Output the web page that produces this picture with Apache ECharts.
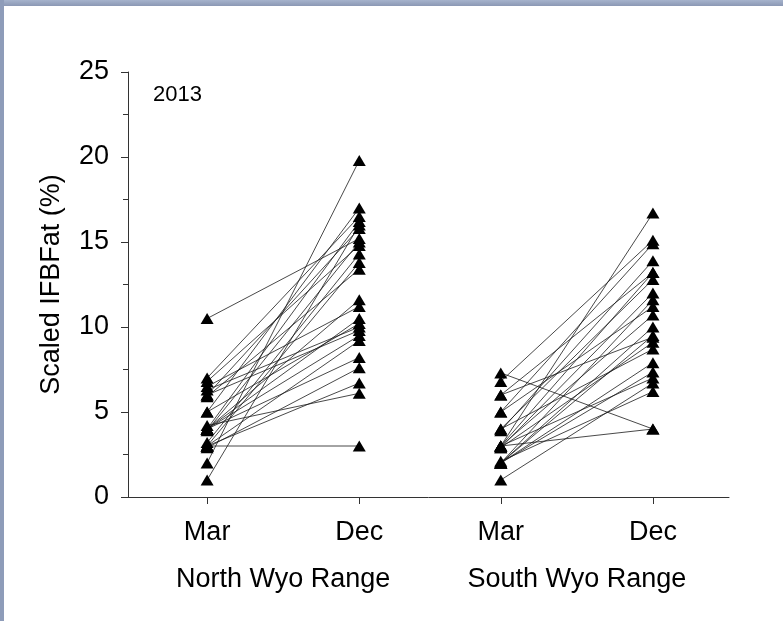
<!DOCTYPE html>
<html>
<head>
<meta charset="utf-8">
<script src="https://cdn.jsdelivr.net/npm/echarts@6/dist/echarts.min.js"></script>
<style>
html,body{margin:0;padding:0;background:#fff;}
#chart{width:783px;height:621px;}
</style>
</head>
<body>
<div id="chart"></div>
<script>
// Tick / group labels
const periodLabels = ['Mar', 'Dec', 'Mar', 'Dec'];
const periodPositions = [1, 2, 2.93, 3.93];
const groupLabels = ['North Wyo Range', 'South Wyo Range'];
const groupPositions = [1.5, 3.43];
const yTicks = [0, 5, 10, 15, 20, 25];
const panelLabel = '2013';

// North Wyo Range: paired values (March -> December)
const northMar = [10.5, 7.0, 6.8, 6.5, 6.3, 6.0, 6.0, 5.9, 5.0, 4.0, 4.0, 4.0, 4.0, 4.0, 3.9, 3.0, 3.0, 3.0, 3.0, 2.9, 2.0, 1.0, 4.2, 3.2, 5.0];
const northDec = [15.2, 16.5, 14.8, 11.2, 10.0, 15.8, 9.8, 13.4, 17.0, 16.2, 11.6, 10.5, 9.5, 8.2, 15.0, 3.0, 6.7, 13.8, 9.2, 7.6, 19.8, 16.0, 6.1, 14.3, 10.2];

// South Wyo Range: paired values (March -> December)
const southMar = [7.3, 6.8, 6.0, 6.0, 5.0, 5.0, 4.0, 4.0, 3.9, 3.0, 3.0, 3.0, 3.0, 2.9, 2.9, 2.0, 2.0, 2.0, 2.1, 1.0, 2.0, 3.0, 2.0];
const southDec = [4.0, 15.1, 13.2, 9.4, 14.9, 11.2, 12.8, 8.7, 13.9, 16.7, 4.0, 10.7, 7.0, 12.0, 9.1, 11.6, 7.35, 10.0, 6.2, 6.7, 7.9, 13.2, 9.5];

const FONT = "'Liberation Sans', Arial, sans-serif";
const series = [];
function addPairs(mar, dec, xa, xb) {
  for (let i = 0; i < mar.length; i++) {
    series.push({
      type: 'line',
      xAxisIndex: 0,
      data: [[xa, mar[i]], [xb, dec[i]]],
      symbol: 'triangle',
      symbolSize: [13, 11],
      showSymbol: true,
      itemStyle: { color: '#000' },
      lineStyle: { color: '#1a1a1a', width: 0.8 },
      silent: true,
      animation: false
    });
  }
}
addPairs(northMar, northDec, periodPositions[0], periodPositions[1]);
addPairs(southMar, southDec, periodPositions[2], periodPositions[3]);

const chart = echarts.init(document.getElementById('chart'), null, { renderer: 'canvas' });
chart.setOption({
  backgroundColor: '#fff',
  animation: false,
  title: {
    text: panelLabel,
    left: 148, top: 79, padding: 5,
    textStyle: { fontFamily: FONT, fontSize: 22, fontWeight: 'normal', color: '#000' }
  },
  grid: { left: 128, right: 54, top: 72, bottom: 124 },
  xAxis: [{
    type: 'value', min: 0.48, max: 4.43,
    position: 'bottom',
    axisLine: { show: true, lineStyle: { color: '#333', width: 1 } },
    axisTick: { show: true, inside: false, length: 7, customValues: periodPositions, lineStyle: { color: '#333' } },
    axisLabel: {
      show: true, customValues: periodPositions, margin: 22,
      formatter: function (v) {
        const idx = periodPositions.findIndex(p => Math.abs(p - v) < 1e-6);
        return idx >= 0 ? periodLabels[idx] : '';
      },
      fontFamily: FONT, fontSize: 27, color: '#000'
    },
    splitLine: { show: false }
  }, {
    type: 'value', min: 0.48, max: 4.43,
    position: 'bottom',
    axisLine: { show: false },
    axisTick: { show: false },
    axisLabel: {
      show: true, customValues: groupPositions, margin: 69,
      formatter: function (v) {
        const idx = groupPositions.findIndex(p => Math.abs(p - v) < 1e-6);
        return idx >= 0 ? groupLabels[idx] : '';
      },
      fontFamily: FONT, fontSize: 27, color: '#000'
    },
    splitLine: { show: false }
  }],
  yAxis: {
    type: 'value', min: 0, max: 25, interval: 5,
    name: 'Scaled IFBFat (%)',
    nameLocation: 'middle', nameGap: 63, nameRotate: 90,
    nameTextStyle: { fontFamily: FONT, fontSize: 27, color: '#000' },
    axisLine: { show: true, lineStyle: { color: '#333', width: 1 } },
    axisTick: { show: true, inside: false, length: 7, lineStyle: { color: '#333' } },
    minorTick: { show: true, splitNumber: 2, length: 5, lineStyle: { color: '#333' } },
    axisLabel: {
      margin: 19, fontFamily: FONT, fontSize: 27, color: '#000',
      customValues: yTicks
    },
    splitLine: { show: false }
  },
  graphic: [
    { type: 'rect', left: 0, top: 0, shape: { width: 783, height: 6 }, z: 100,
      style: { fill: new echarts.graphic.LinearGradient(0, 0, 0, 1, [{ offset: 0, color: '#a6b3cc' }, { offset: 1, color: '#8b98b4' }]) } },
    { type: 'rect', left: 0, top: 0, shape: { width: 4, height: 621 }, z: 100,
      style: { fill: '#8e9cb9' } }
  ],
  series: series
});
</script>
</body>
</html>
